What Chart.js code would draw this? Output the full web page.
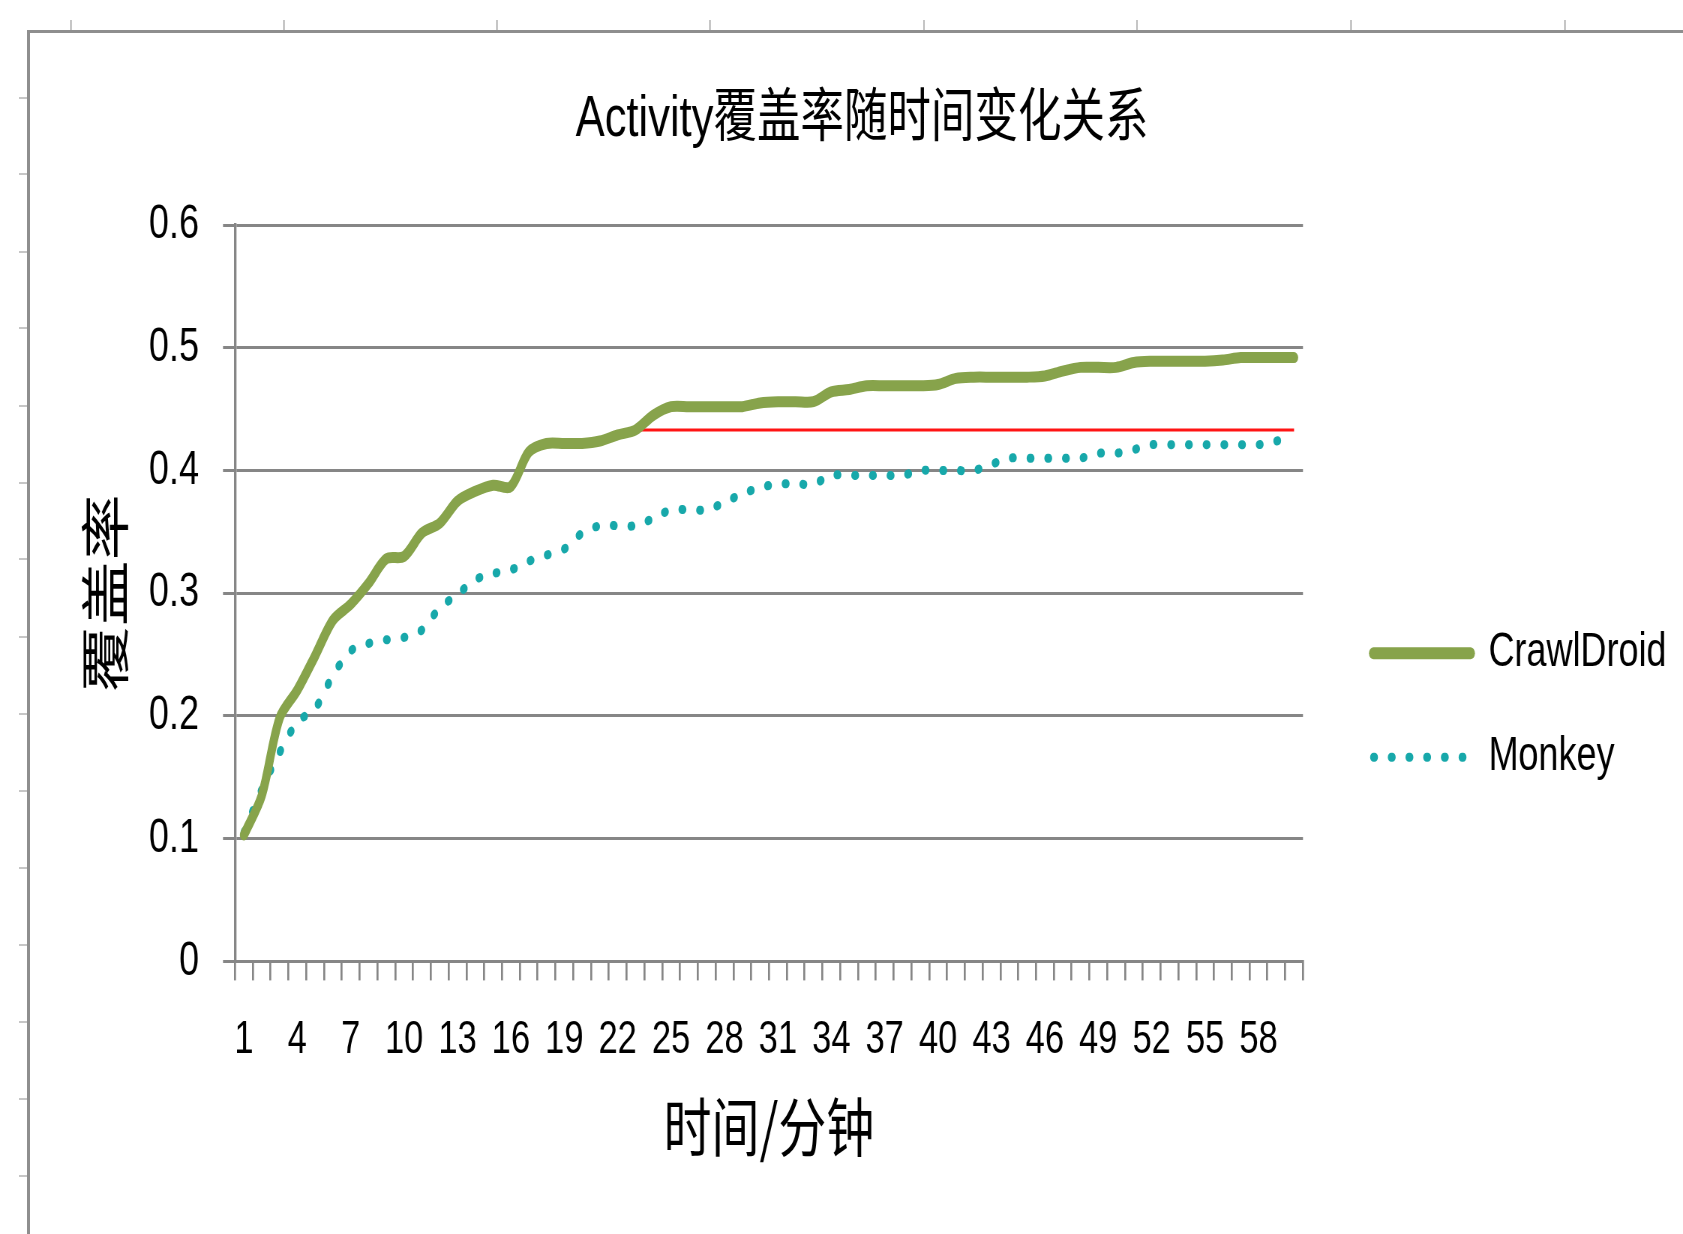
<!DOCTYPE html>
<html>
<head>
<meta charset="utf-8">
<title>Activity覆盖率随时间变化关系</title>
<script src="https://cdn.jsdelivr.net/npm/chart.js@4.4.1/dist/chart.umd.min.js"></script>
<style>
    html, body { margin: 0; padding: 0; background: #fff; overflow: hidden; }
    #page { position: relative; width: 1683px; height: 1234px; overflow: hidden; background: #fff; }
    #frame { position: absolute; left: 27px; top: 30px; width: 1700px; height: 1260px;
             border-top: 3px solid #8e8e8e; border-left: 3px solid #8e8e8e; }
    .mark { position: absolute; background: #c6c6c6; }
    #squeeze { position: absolute; left: 0; top: 0; height: 1234px; transform-origin: 0 0; }
</style>
</head>
<body>
<div id="page">
    <div id="frame"></div>
    <div id="squeeze"><canvas id="coverage-chart"></canvas></div>
</div>
<script>
var minutes = [1, 2, 3, 4, 5, 6, 7, 8, 9, 10, 11, 12, 13, 14, 15, 16, 17, 18, 19, 20,
    21, 22, 23, 24, 25, 26, 27, 28, 29, 30, 31, 32, 33, 34, 35, 36, 37, 38, 39, 40,
    41, 42, 43, 44, 45, 46, 47, 48, 49, 50, 51, 52, 53, 54, 55, 56, 57, 58, 59, 60];
var crawlDroid = [0.103, 0.135, 0.198, 0.221, 0.249, 0.278, 0.291, 0.308, 0.328, 0.330,
    0.349, 0.357, 0.375, 0.383, 0.388, 0.387, 0.415, 0.422, 0.422, 0.422,
    0.424, 0.429, 0.433, 0.445, 0.452, 0.452, 0.452, 0.452, 0.452, 0.455,
    0.456, 0.456, 0.456, 0.464, 0.466, 0.469, 0.469, 0.469, 0.469, 0.470,
    0.475, 0.476, 0.476, 0.476, 0.476, 0.477, 0.481, 0.484, 0.484, 0.484,
    0.488, 0.489, 0.489, 0.489, 0.489, 0.490, 0.492, 0.492, 0.492, 0.492];
var monkey = [0.105, 0.140, 0.170, 0.195, 0.206, 0.233, 0.253, 0.259, 0.262, 0.264,
    0.270, 0.288, 0.299, 0.311, 0.316, 0.319, 0.326, 0.331, 0.336, 0.349,
    0.355, 0.355, 0.355, 0.361, 0.368, 0.368, 0.368, 0.374, 0.381, 0.386,
    0.389, 0.389, 0.389, 0.396, 0.396, 0.396, 0.396, 0.396, 0.400, 0.400,
    0.400, 0.400, 0.405, 0.410, 0.410, 0.410, 0.410, 0.410, 0.414, 0.414,
    0.417, 0.421, 0.421, 0.421, 0.421, 0.421, 0.421, 0.421, 0.424, 0.425];
// red hand-drawn marker line
var markerLine = [{x: 23, y: 0.433}, {x: 60, y: 0.433}];
var labelEvery = 3;

// the whole picture is squeezed sideways, so the canvas is drawn wide and scaled by css
var SQ = 0.75;
function hx(px) { return px / SQ; }

var squeeze = document.getElementById('squeeze');
squeeze.style.width = hx(1674) + 'px';
squeeze.style.transform = 'scaleX(' + SQ + ')';

var page = document.getElementById('page');
[70, 283, 496, 709, 923, 1136, 1350, 1564].forEach(function (x) {
    var m = document.createElement('div');
    m.className = 'mark';
    m.style.cssText = 'left:' + x + 'px;top:20px;width:2px;height:10px;';
    page.appendChild(m);
});
[97, 173, 251, 327, 405, 482, 558, 636, 713, 790, 867, 944, 1021, 1098, 1175].forEach(function (y) {
    var m = document.createElement('div');
    m.className = 'mark';
    m.style.cssText = 'left:19px;top:' + y + 'px;width:8px;height:2px;';
    page.appendChild(m);
});

var latin = '"Liberation Sans", "Noto Sans CJK SC", sans-serif';
var cjk = '"Noto Sans CJK SC", sans-serif';
var gray = '#868686';

var CoverageChartConfig = {
    type: 'line',
    data: {
        labels: minutes,
        datasets: [{
            label: 'CrawlDroid',
            data: crawlDroid,
            borderColor: '#87A34B',
            borderWidth: 11,
            borderCapStyle: 'round',
            borderJoinStyle: 'round',
            tension: 0.3,
            fill: false
        }, {
            label: 'Monkey',
            data: monkey,
            borderColor: '#17A8AA',
            borderWidth: 9,
            borderDash: [1.5, hx(17.7) - 1.5],
            borderCapStyle: 'round',
            tension: 0.3,
            fill: false
        }, {
            label: '',
            data: markerLine,
            borderColor: '#FF1414',
            borderWidth: 3,
            tension: 0,
            fill: false
        }]
    },
    options: {
        responsive: true,
        maintainAspectRatio: false,
        animation: false,
        layout: {padding: {top: 0, bottom: 68.6, left: hx(50), right: 0}},
        elements: {point: {radius: 0, hoverRadius: 0}},
        plugins: {
            tooltip: {enabled: false},
            title: {
                display: true,
                text: 'Activity覆盖率随时间变化关系',
                color: '#000',
                font: {family: latin, size: 58, weight: 'normal'},
                padding: {top: 85, bottom: 70.4}
            },
            legend: {
                position: 'right',
                maxWidth: 1000,
                title: {display: true, text: ' ', font: {size: 10}, padding: {top: 233, bottom: 0}},
                labels: {
                    usePointStyle: true,
                    pointStyle: 'line',
                    pointStyleWidth: hx(97),
                    padding: 56,
                    color: '#000',
                    font: {family: latin, size: 48},
                    filter: function (item) { return item.datasetIndex < 2; },
                    generateLabels: function (chart) {
                        var items = Chart.defaults.plugins.legend.labels.generateLabels(chart);
                        items.forEach(function (item) {
                            var ds = chart.data.datasets[item.datasetIndex];
                            item.strokeStyle = ds.borderColor;
                            item.lineWidth = ds.borderDash ? ds.borderWidth : 12;
                            item.lineDash = ds.borderDash || [];
                            item.lineCap = ds.borderCapStyle || 'butt';
                        });
                        return items;
                    }
                }
            }
        },
        scales: {
            x: {
                offset: true,
                grid: {offset: true, drawOnChartArea: false, drawTicks: true, tickLength: 19, color: gray, lineWidth: hx(2)},
                border: {color: gray, width: 3},
                ticks: {
                    autoSkip: false,
                    maxRotation: 0,
                    padding: 32,
                    color: '#000',
                    font: {family: latin, size: 46},
                    callback: function (value, index) {
                        return index % labelEvery === 0 ? this.getLabelForValue(value) : '';
                    }
                },
                title: {
                    display: true,
                    text: '时间/分钟',
                    color: '#000',
                    font: {family: cjk, size: 64},
                    padding: {top: -11, bottom: 0}
                }
            },
            y: {
                min: 0,
                max: 0.6,
                afterFit: function (scale) { scale.width = hx(185); },
                grid: {color: gray, lineWidth: 3, tickLength: hx(12)},
                border: {color: gray, width: hx(2.5)},
                ticks: {stepSize: 0.1, padding: hx(24), color: '#000', font: {family: latin, size: 48}},
                title: {
                    display: true,
                    text: '覆盖率',
                    color: '#000',
                    font: {family: cjk, size: 66},
                    padding: {top: 33.7, bottom: 0}
                }
            },
            yGap: {
                type: 'linear',
                axis: 'y',
                position: 'right',
                grid: {display: false},
                border: {display: false},
                ticks: {display: false},
                afterFit: function (scale) { scale.width = 38; }
            }
        }
    }
};
var CoverageChart = new Chart(document.getElementById('coverage-chart').getContext('2d'), CoverageChartConfig);
</script>
</body>
</html>
